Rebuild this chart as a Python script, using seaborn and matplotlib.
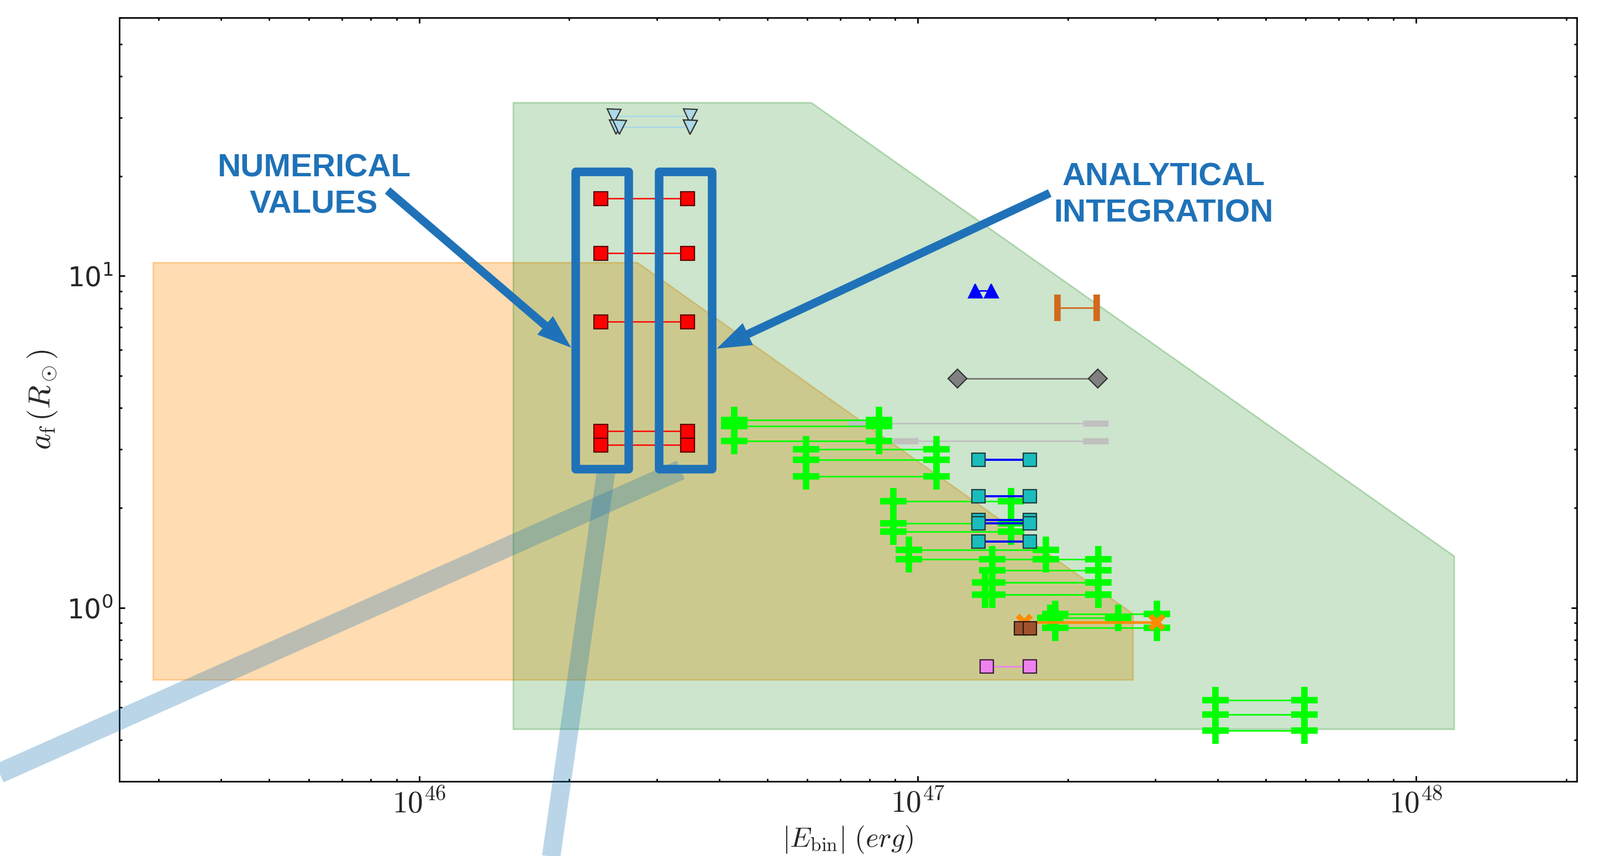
import numpy as np
import pandas as pd
import matplotlib
matplotlib.use("Agg")
import matplotlib.pyplot as plt
import seaborn as sns
from matplotlib.patches import Rectangle
from matplotlib.ticker import FuncFormatter, LogLocator, NullFormatter

# ---------------- data ----------------
x_limits = (2.5e45, 2.1e48)
y_limits = (0.3, 60.0)

# shaded allowed regions (|E_bin| in erg, a_f in R_sun)
orange_E = [2.926e45, 2.741e46, 2.705e47, 2.705e47, 2.926e45]
orange_a = [10.97, 10.97, 0.958, 0.606, 0.606]
green_E = [1.544e46, 6.12e46, 1.193e48, 1.193e48, 1.544e46]
green_a = [33.3, 33.3, 1.43, 0.430, 0.430]

# paired estimates (left value, right value, common a_f)
lightblue_E1 = [2.456e46, 2.483e46, 2.521e46]
lightblue_E2 = [3.494e46, 3.494e46, 3.494e46]
lightblue_a = [30.4, 28.1, 28.1]

red_E1 = [2.311e46, 2.311e46, 2.311e46, 2.311e46, 2.311e46]
red_E2 = [3.450e46, 3.450e46, 3.450e46, 3.450e46, 3.450e46]
red_a = [17.13, 11.73, 7.30, 3.41, 3.10]

blue_E1 = [1.305e47]
blue_E2 = [1.405e47]
blue_a = [9.03]

choc_E1 = [1.906e47]
choc_E2 = [2.289e47]
choc_a = [8.02]

gray_E1 = [1.202e47]
gray_E2 = [2.299e47]
gray_a = [4.91]

silver_E1 = [7.647e46, 9.45e46]
silver_E2 = [2.277e47, 2.277e47]
silver_a = [3.591, 3.187]

cyan_E1 = [1.323e47, 1.323e47, 1.323e47, 1.323e47, 1.323e47]
cyan_E2 = [1.680e47, 1.680e47, 1.680e47, 1.680e47, 1.680e47]
cyan_a = [2.791, 2.170, 1.835, 1.800, 1.585]

lime_E1 = [4.282e46, 4.282e46, 4.282e46,
           5.965e46, 5.965e46, 5.965e46,
           8.93e46, 8.93e46, 8.93e46,
           9.61e46, 9.61e46,
           1.413e47, 1.413e47, 1.413e47, 1.413e47, 1.365e47, 1.365e47,
           1.887e47, 1.847e47, 1.887e47,
           3.959e47, 3.959e47, 3.959e47]
lime_E2 = [8.37e46, 8.37e46, 8.37e46,
           1.091e47, 1.091e47, 1.091e47,
           1.539e47, 1.539e47, 1.539e47,
           1.808e47, 1.808e47,
           2.305e47, 2.305e47, 2.305e47, 2.305e47, 2.305e47, 2.305e47,
           3.023e47, 2.526e47, 3.023e47,
           5.974e47, 5.974e47, 5.974e47]
lime_a = [3.684, 3.524, 3.181,
          3.003, 2.791, 2.486,
          2.096, 1.796, 1.696,
          1.497, 1.400,
          1.400, 1.295, 1.192, 1.097, 1.192, 1.097,
          0.958, 0.934, 0.871,
          0.526, 0.4765, 0.4263]

orange_x_E1 = [1.638e47]
orange_x_E2 = [3.023e47]
orange_x_a = [0.905]

brown_E1 = [1.611e47]
brown_E2 = [1.681e47]
brown_a = [0.867]

violet_E1 = [1.377e47]
violet_E2 = [1.681e47]
violet_a = [0.665]

# annotation anchors (data coordinates)
box_E = [(2.058e46, 2.632e46), (3.027e46, 3.873e46)]
box_a = (2.616, 20.64)
arrow_left = ((8.64e45, 18.11), (2.018e46, 6.08))
arrow_right = ((1.841e47, 17.78), (3.952e46, 6.04))
text_left = (6.14e45, 18.6, "NUMERICAL\nVALUES")
text_right = (3.115e47, 17.5, "ANALYTICAL\nINTEGRATION")
band_1 = ([3.346e46, 1.115e45], [2.604, 0.2675])
band_2 = ([2.373e46, 1.772e46], [2.606, 0.12])

# ---------------- figure ----------------
sns.set_style("white")
plt.rcParams["mathtext.fontset"] = "cm"
plt.rcParams["font.family"] = ["DejaVu Sans"]

fig = plt.figure(figsize=(14.48, 7.745), dpi=200)
ax = fig.add_axes([0.0745, 0.0874, 0.9109, 0.8917])
ax.set_xscale("log")
ax.set_yscale("log")

ax.fill(orange_E, orange_a, fc=(1.0, 0.55, 0.0, 0.3), ec=(1.0, 0.55, 0.0, 0.35), lw=1.0, zorder=1)
ax.fill(green_E, green_a, fc=(0.0, 0.5, 0.0, 0.2), ec=(0.0, 0.5, 0.0, 0.25), lw=1.0, zorder=1.1)


def pairs_frame(E1, E2, a):
    rows = []
    for i, (e1, e2, y) in enumerate(zip(E1, E2, a)):
        rows.append((i, e1, y))
        rows.append((i, e2, y))
    return pd.DataFrame(rows, columns=["pair", "E", "a"])


def draw(E1, E2, a, color, lw, marker, ms, mfc, mec, mew, z):
    df = pairs_frame(E1, E2, a)
    sns.lineplot(data=df, x="E", y="a", units="pair", estimator=None, sort=False,
                 ax=ax, color=color, lw=lw, marker=marker, markersize=ms,
                 markerfacecolor=mfc, markeredgecolor=mec, markeredgewidth=mew,
                 legend=False, zorder=z)


draw(silver_E1, silver_E2, silver_a, "silver", 1.0, "_", 16.5, "silver", "silver", 4.0, 2)
draw(lime_E1, lime_E2, lime_a, "lime", 1.0, "+", 17.5, "lime", "lime", 4.2, 3)
draw(lightblue_E1, lightblue_E2, lightblue_a, "lightblue", 1.0, "v", 9.0, "lightblue", "#333333", 0.8, 4)
draw(red_E1, red_E2, red_a, "red", 0.9, "s", 9.0, "red", "#5a0000", 0.8, 4)
draw(blue_E1, blue_E2, blue_a, "blue", 1.0, "^", 9.0, "blue", "blue", 0.8, 4)
draw(choc_E1, choc_E2, choc_a, "chocolate", 1.0, "|", 17.6, "chocolate", "chocolate", 4.2, 4)
draw(gray_E1, gray_E2, gray_a, "dimgray", 0.9, "D", 8.7, "gray", "#333333", 0.8, 4)
draw(cyan_E1, cyan_E2, cyan_a, "blue", 1.4, "s", 8.7, "#1bbcbc", "#1c3c3c", 0.8, 4.5)
draw(orange_x_E1, orange_x_E2, orange_x_a, "darkorange", 1.7, "x", 8.5, "darkorange", "darkorange", 3.5, 5)
draw(brown_E1, brown_E2, brown_a, "sienna", 1.0, "s", 8.7, "sienna", "#2a1a10", 0.8, 6)
draw(violet_E1, violet_E2, violet_a, "violet", 1.0, "s", 8.7, "violet", "#3a1a3a", 0.8, 6)

# ---------------- annotations ----------------
blue_ann = "#1f72b8"
band_color = "#1f77b4"
ax.plot(band_1[0], band_1[1], color=band_color, alpha=0.3, lw=13, solid_capstyle="butt",
        clip_on=False, zorder=8)
ax.plot(band_2[0], band_2[1], color=band_color, alpha=0.3, lw=12, solid_capstyle="butt",
        clip_on=False, zorder=8)

for e0, e1 in box_E:
    ax.add_patch(Rectangle((e0, box_a[0]), e1 - e0, box_a[1] - box_a[0], fill=False,
                           ec=blue_ann, lw=5.6, joinstyle="round", zorder=9, clip_on=False))

for tail, tip in (arrow_left, arrow_right):
    ax.annotate("", xy=tip, xytext=tail,
                arrowprops=dict(arrowstyle="simple,head_length=1.12,head_width=0.79,tail_width=0.27",
                                mutation_scale=20, fc=blue_ann, ec="none", shrinkA=0, shrinkB=0),
                zorder=10)

for tx, ty, s in (text_left, text_right):
    ax.text(tx, ty, s, ha="center", va="center", multialignment="center", fontsize=21,
            fontweight="bold", color=blue_ann, family=["Liberation Sans", "DejaVu Sans"],
            linespacing=1.3, zorder=10)

# ---------------- axes ----------------
ax.set_xlim(*x_limits)
ax.set_ylim(*y_limits)
ax.xaxis.set_major_locator(LogLocator(base=10, numticks=10))
ax.yaxis.set_major_locator(LogLocator(base=10, numticks=10))
ax.xaxis.set_minor_locator(LogLocator(base=10, subs=np.arange(2, 10), numticks=20))
ax.yaxis.set_minor_locator(LogLocator(base=10, subs=np.arange(2, 10), numticks=20))
ax.xaxis.set_major_formatter(FuncFormatter(lambda v, p: r"$10^{%d}$" % round(np.log10(v))))
ax.yaxis.set_major_formatter(FuncFormatter(lambda v, p: r"$\mathdefault{10^{%d}}$" % round(np.log10(v))))
ax.xaxis.set_minor_formatter(NullFormatter())
ax.yaxis.set_minor_formatter(NullFormatter())

ax.tick_params(which="both", direction="in", top=True, right=True, bottom=True, left=True,
               color="black", width=1.0)
ax.tick_params(which="major", length=3.6)
ax.tick_params(which="minor", length=1.8)
ax.tick_params(axis="x", which="major", labelsize=20, pad=5)
ax.tick_params(axis="y", which="major", labelsize=17.5, pad=4)
for sp in ax.spines.values():
    sp.set_color("black")
    sp.set_linewidth(1.0)

ax.set_xlabel(r"$|E_{\rm bin}|\ (erg)$", fontsize=18, labelpad=3)
ax.set_ylabel(r"$a_{\rm f}\,(R_\odot)$", fontsize=20, labelpad=5)

fig.savefig("out.png", dpi=200, facecolor="white")
